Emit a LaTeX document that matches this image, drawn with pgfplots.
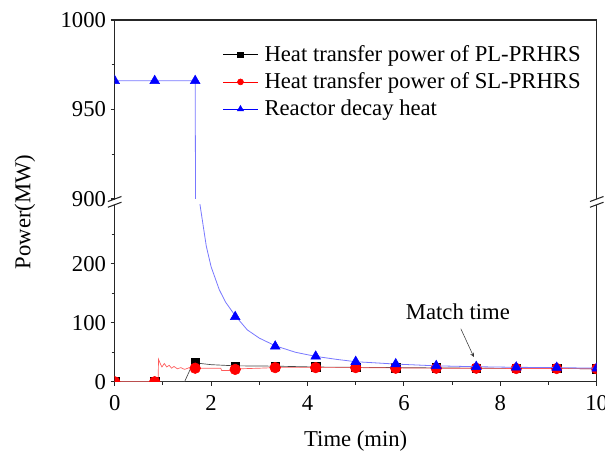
\documentclass[border=0pt]{standalone}
\usepackage{fontspec}
\setmainfont{Liberation Serif}
\usepackage{pgfplots}
\pgfplotsset{compat=1.18}

\definecolor{lineblk}{RGB}{70,70,70}
\definecolor{linered}{RGB}{255,90,90}
\definecolor{lineblue}{RGB}{120,120,255}

\newcommand{\bigfont}{\fontsize{17}{20}\selectfont}

\pgfplotsset{
  brokenaxis/.style={
    scale only axis,
    width=361.5pt,
    xmin=0, xmax=10,
    axis line style={black!85, line width=0.9pt},
    tick style={black!85, line width=0.8pt},
    tick align=outside,
    major tick length=3pt,
    minor tick length=2.2pt,
    ytick pos=left,
    tick label style={font=\bigfont},
    /pgf/number format/assume math mode=true,
    /pgf/number format/1000 sep={},
    clip marker paths=true,
  },
}

\begin{document}
\begin{tikzpicture}

% lower part, 0 to 300 MW
\begin{axis}[brokenaxis,
    at={(0,0)}, anchor=south west,
    height=132.75pt,
    ymin=0, ymax=300,
    axis x line*=bottom, axis y line*=box,
    xtick={0,2,4,6,8,10}, minor xtick={1,3,5,7,9},
    ytick={0,100,200}, minor ytick={50,150,250},
    xticklabel style={yshift=-4pt},
    xlabel={Time (min)},
    xlabel style={font=\bigfont, yshift=-8pt},
]
% PL-PRHRS
\addplot[lineblk, line width=0.5pt] coordinates {
  (0,0) (0.83,0) (1.45,0) (1.55,18) (1.63,33) (1.67,32) (2.0,29) (2.5,27)
  (3.33,26.5) (4.17,25) (5,24.5) (5.83,24) (6.67,23.5) (7.5,23) (8.33,22.5)
  (9.17,22.5) (10,22)
};
\addplot[only marks, mark=square*, mark size=3.2pt, black] coordinates {
  (0,0) (0.83,0) (1.67,32) (2.5,26) (3.33,26) (4.17,25) (5,24.5) (5.83,24)
  (6.67,23.5) (7.5,23) (8.33,22.5) (9.17,22.5) (10,22)
};
% SL-PRHRS
\addplot[linered, line width=0.5pt] coordinates {
  (0,0) (0.83,0) (0.9,0) (0.91,38) (0.95,30) (0.98,25) (1.03,31) (1.08,25)
  (1.13,28) (1.18,23) (1.23,26) (1.3,22) (1.37,24) (1.45,21) (1.55,24)
  (1.67,23) (2.0,23) (2.2,23) (2.22,19) (2.5,19) (2.6,22) (3.0,23) (3.33,24)
  (4.17,24) (5,24) (5.83,23.5) (6.67,23) (7.5,23) (8.33,22.5) (9.17,22.5) (10,22)
};
\addplot[only marks, mark=*, mark size=4pt, red] coordinates {
  (0,0) (0.83,0) (1.67,23) (2.5,21) (3.33,24) (4.17,24) (5,24) (5.83,23)
  (6.67,23) (7.5,23) (8.33,22.5) (9.17,22.5) (10,22)
};
% decay heat
\addplot[lineblue, line width=0.6pt] coordinates {
  (0,966) (0.83,966) (1.67,966) (1.70,700) (1.77,300) (1.9,230) (2.0,195)
  (2.17,156) (2.3,135) (2.5,112) (2.75,88) (3.0,74) (3.33,61) (3.75,50)
  (4.17,43) (4.6,38) (5.0,34) (5.42,32) (5.83,30) (6.25,28.5) (6.67,27)
  (7.5,25.5) (8.33,24.5) (9.17,24) (10,23)
};
\addplot[only marks, mark=triangle*, mark size=4.2pt, blue] coordinates {
  (0,966) (0.83,966) (1.67,966) (2.5,110) (3.33,60) (4.17,43) (5,34)
  (5.83,30) (6.67,27) (7.5,25.5) (8.33,24.5) (9.17,24) (10,23)
};
\node[font=\bigfont] at (axis cs:7.12,119) {Match time};
\draw[-stealth, black!80, line width=0.4pt] (axis cs:7.18,90) -- (axis cs:7.45,42);
\end{axis}

% upper part, 900 to 1000 MW
\begin{axis}[brokenaxis,
    at={(0,137.05pt)}, anchor=south west,
    height=134.25pt,
    ymin=900, ymax=1000,
    axis x line*=top, axis y line*=box,
    xtick=\empty,
    ytick={900,950,1000}, minor ytick={925,975},
    legend cell align=left,
    legend style={at={(0.216,0.888)}, anchor=north west, draw=none, fill=none,
      font=\bigfont, row sep=3pt,
      /tikz/every odd column/.append style={column sep=3pt}},
    legend image code/.code={
      \draw[mark repeat=2, mark phase=2] plot coordinates {(0cm,0cm) (0.45cm,0cm) (0.9cm,0cm)};
    },
]
\addlegendimage{black, line width=0.5pt, mark=square*, mark size=2pt}
\addlegendentry{Heat transfer power of PL-PRHRS}
\addlegendimage{red, line width=0.5pt, mark=*, mark size=2.2pt}
\addlegendentry{Heat transfer power of SL-PRHRS}
\addlegendimage{blue, line width=0.5pt, mark=triangle*, mark size=2.6pt}
\addlegendentry{Reactor decay heat}
\addplot[lineblue, line width=0.6pt, forget plot] coordinates {
  (0,966) (0.83,966) (1.67,966) (1.70,700) (1.77,300) (1.9,230) (2.0,195)
};
\addplot[only marks, mark=triangle*, mark size=4.2pt, blue, forget plot] coordinates {
  (0,966) (0.83,966) (1.67,966)
};
\end{axis}

% axis break marks
\foreach \bx in {0pt,361.5pt}{
  \foreach \by in {132.75pt,137.05pt}{
    \draw[black!85, line width=0.8pt] ([shift={(-5.1pt,-1.9pt)}]\bx,\by) -- ([shift={(5.1pt,1.9pt)}]\bx,\by);
  }
}

\node[font=\bigfont, rotate=90] at (-67.3pt,127.3pt) {Power(MW)};

\pgfresetboundingbox
\useasboundingbox (-86pt,-55pt) rectangle (367.7pt,286.3pt);
\end{tikzpicture}
\end{document}
